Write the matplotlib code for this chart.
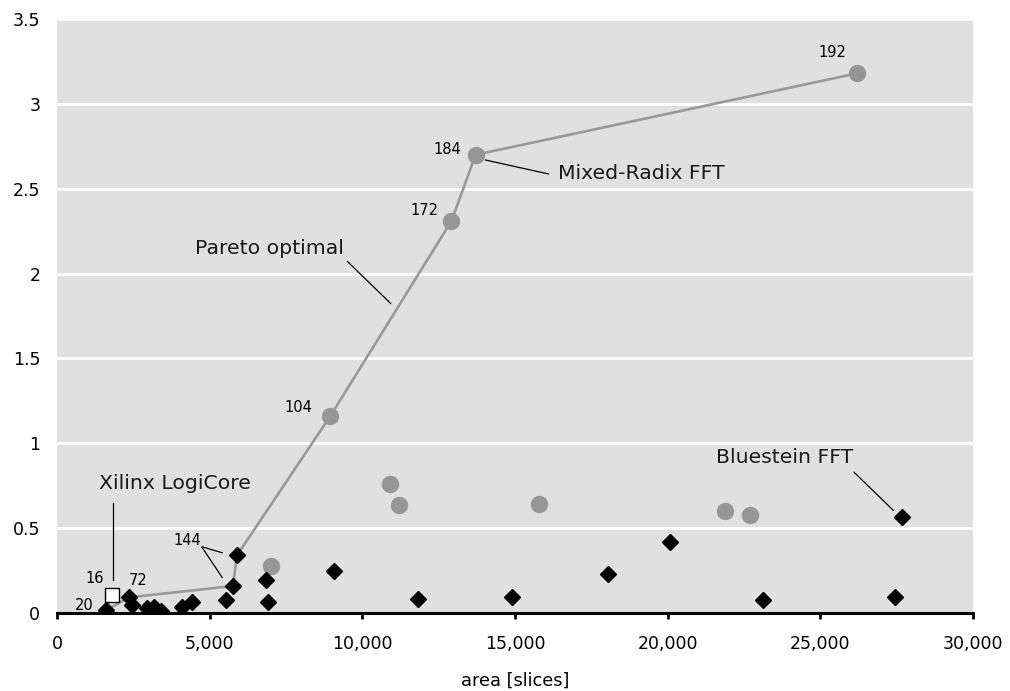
import matplotlib.pyplot as plt
from matplotlib.ticker import FuncFormatter, MultipleLocator

# Mixed-radix FFT designs (area in slices, throughput)
mixed_area = [8954, 12920, 13710, 26210, 7000, 10900, 11190, 15800, 21870, 22690]
mixed_perf = [1.161, 2.31, 2.70, 3.18, 0.276, 0.76, 0.635, 0.645, 0.60, 0.577]

# Bluestein FFT designs
blue_area = [1600, 2355, 2464, 2954, 3173, 3393, 4099, 4407, 5539, 5758, 5899,
             6838, 6903, 9062, 11810, 14918, 18059, 20087, 23130, 27448, 27677]
blue_perf = [0.015, 0.092, 0.047, 0.028, 0.035, 0.013, 0.037, 0.066, 0.076, 0.159, 0.341,
             0.194, 0.065, 0.247, 0.082, 0.094, 0.229, 0.418, 0.076, 0.094, 0.565]

# Xilinx LogiCore reference design
xilinx_area = [1790]
xilinx_perf = [0.106]

# Pareto front (subset of the above, in order of increasing area)
pareto_area = [1600, 2355, 5758, 5899, 8954, 12920, 13710, 26210]
pareto_perf = [0.015, 0.092, 0.159, 0.341, 1.161, 2.31, 2.70, 3.18]

# transform sizes printed next to selected points
size_labels = ['16', '20', '72', '104', '144', '172', '184', '192']

fig = plt.figure(figsize=(10.10, 6.91), dpi=100)
ax = fig.add_axes([57 / 1010, 1 - 613 / 691, (973 - 57) / 1010, (613 - 19) / 691])
ax.set_facecolor('#e0e0e0')

ax.plot(pareto_area, pareto_perf, '-', color='#999999', lw=1.9, zorder=2)
ax.plot(mixed_area, mixed_perf, 'o', color='#969696', ms=11.5, mec='#969696', zorder=3)
ax.plot(blue_area, blue_perf, 'D', color='black', ms=8.3, mec='black', zorder=4)
ax.plot(xilinx_area, xilinx_perf, 's', color='white', ms=10.5, mec='black', mew=1.0, zorder=5)

ax.set_xlim(0, 30000)
ax.set_ylim(0, 3.5)
ax.xaxis.set_major_locator(MultipleLocator(5000))
ax.yaxis.set_major_locator(MultipleLocator(0.5))
ax.xaxis.set_major_formatter(FuncFormatter(lambda v, p: '{:,.0f}'.format(v)))
ax.yaxis.set_major_formatter(FuncFormatter(lambda v, p: '{:g}'.format(v)))

ax.grid(axis='y', color='white', lw=2)
ax.set_axisbelow(True)
for side in ['left', 'right', 'top']:
    ax.spines[side].set_visible(False)
ax.spines['bottom'].set_linewidth(2.2)
ax.spines['bottom'].set_zorder(1)
ax.tick_params(axis='x', direction='out', length=4, width=2, pad=12, labelsize=12.5, colors='black')
ax.tick_params(axis='y', length=0, pad=12, labelsize=12.5)
ax.set_xlabel('area [slices]', fontsize=12.8, labelpad=13)

lab = dict(fontsize=10.5, ha='center', va='center', zorder=6)
ax.text(1243, 0.206, size_labels[0], **lab)
ax.text(883, 0.047, size_labels[1], **lab)
ax.text(2650, 0.194, size_labels[2], **lab)
ax.text(7917, 1.21, size_labels[3], **lab)
ax.text(4253, 0.429, size_labels[4], **lab)
ax.text(12030, 2.37, size_labels[5], **lab)
ax.text(12790, 2.73, size_labels[6], **lab)
ax.text(25387, 3.30, size_labels[7], **lab)

# callout labels with leader lines
big = dict(fontsize=14.7, ha='center', va='center', color='#1a1a1a', zorder=6)
lead = dict(color='black', lw=0.9, zorder=6)
ax.text(3860, 0.765, 'Xilinx LogiCore', **big)
ax.plot([1832, 1832], [0.65, 0.194], **lead)
ax.text(6968, 2.147, 'Pareto optimal', **big)
ax.plot([9520, 10927], [2.07, 1.824], **lead)
ax.text(19138, 2.588, 'Mixed-Radix FFT', **big)
ax.plot([14035, 16096], [2.669, 2.587], **lead)
ax.text(23817, 0.918, 'Bluestein FFT', **big)
ax.plot([26107, 27383], [0.829, 0.606], **lead)
ax.plot([4754, 5408], [0.39, 0.355], **lead)
ax.plot([4754, 5408], [0.386, 0.21], **lead)

fig.savefig('out.png', dpi=100)
